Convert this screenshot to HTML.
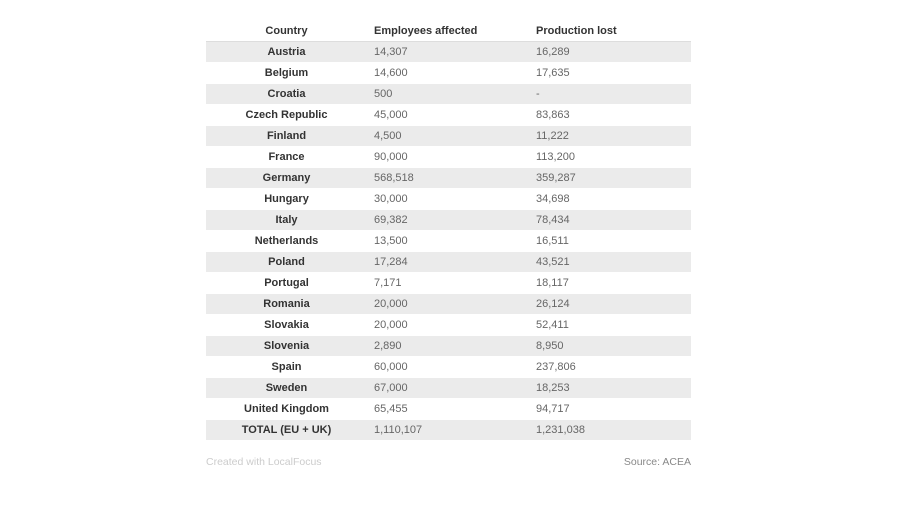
<!DOCTYPE html>
<html><head><meta charset="utf-8"><style>
body{margin:0;width:900px;height:507px;background:#fff;font-family:"Liberation Sans",sans-serif;position:relative;overflow:hidden}
table{position:absolute;left:206px;top:21px;width:485px;border-collapse:collapse;font-size:11px}
td,th{height:20px;padding:0;border-bottom:1px solid #fff}
th{font-weight:bold;color:#333;text-align:left;border-bottom:1px solid #ddd}
th:first-child,td:first-child{text-align:center;width:161px;font-weight:bold;color:#333}
td{color:#666}
.c2{padding-left:7px;width:155px}
.c3{padding-left:7px}
tbody tr:nth-child(odd){background:#ebebeb}
.foot{position:absolute;top:456px;font-size:10.5px}
</style></head><body>
<table>
<thead><tr><th>Country</th><th class="c2">Employees affected</th><th class="c3">Production lost</th></tr></thead>
<tbody id="tb"></tbody></table>
<div class="foot" style="left:206px;color:#ccc">Created with LocalFocus</div>
<div class="foot" style="right:209px;color:#888">Source: ACEA</div>
<script>
const countries=["Austria","Belgium","Croatia","Czech Republic","Finland","France","Germany","Hungary","Italy","Netherlands","Poland","Portugal","Romania","Slovakia","Slovenia","Spain","Sweden","United Kingdom","TOTAL (EU + UK)"];
const employees=["14,307","14,600","500","45,000","4,500","90,000","568,518","30,000","69,382","13,500","17,284","7,171","20,000","20,000","2,890","60,000","67,000","65,455","1,110,107"];
const production=["16,289","17,635","-","83,863","11,222","113,200","359,287","34,698","78,434","16,511","43,521","18,117","26,124","52,411","8,950","237,806","18,253","94,717","1,231,038"];
const tb=document.getElementById('tb');
countries.forEach((c,i)=>{
const tr=document.createElement('tr');


[[c,''],[employees[i],'c2'],[production[i],'c3']].forEach(([t,cl],j)=>{
const td=document.createElement('td');td.textContent=t;if(cl)td.className=cl;


tr.appendChild(td);});
tb.appendChild(tr);});
</script>
</body></html>
